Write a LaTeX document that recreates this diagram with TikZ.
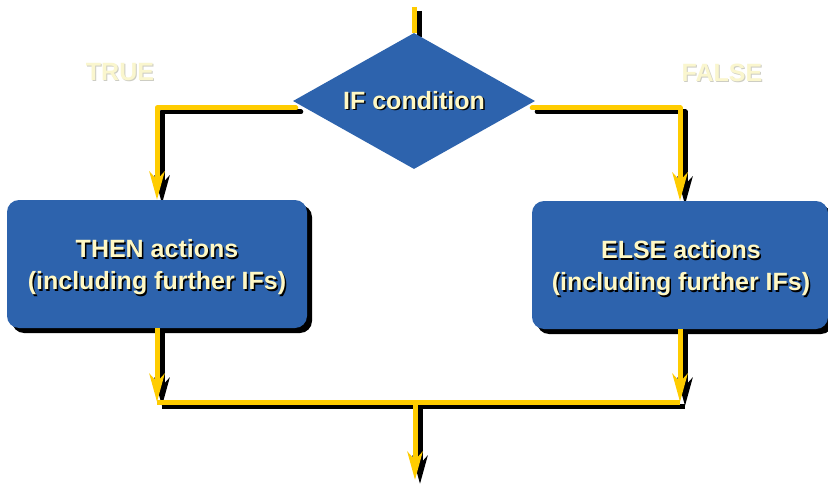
\documentclass[tikz,border=0pt]{standalone}
\usepackage{fontspec}
\setmainfont{Liberation Sans}
\usetikzlibrary{arrows.meta,shapes.geometric,shadows,calc}
\pgfdeclarelayer{bg}
\pgfdeclarelayer{paper}
\pgfsetlayers{paper,bg,main}
\definecolor{flowyellow}{RGB}{255,204,0}
\definecolor{boxblue}{RGB}{45,99,173}
\definecolor{textcream}{RGB}{255,248,196}
\definecolor{labelcream}{RGB}{250,246,206}
\definecolor{labelshade}{RGB}{205,205,195}
\newcommand\shadowed[1]{\leavevmode\rlap{\raisebox{-1.5pt}{\hspace*{1.5pt}\textcolor{black}{#1}}}#1}
\newcommand\lightshadowed[1]{\leavevmode\rlap{\raisebox{-1pt}{\hspace*{1pt}\textcolor{labelshade}{#1}}}#1}
\tikzset{
  flow/.style={draw=flowyellow, line width=5pt, line join=round},
  flowshadow/.style={draw=black, line width=5pt, line join=round, transform canvas={xshift=5pt,yshift=-4pt}},
  tipped/.style={-{Stealth[length=28pt,width=15pt,inset=8pt]}},
  decision/.style={diamond, fill=boxblue, inner sep=0pt, shape aspect=1.78,
    minimum width=242pt, minimum height=136pt, text=textcream,
    font=\fontsize{25}{32}\selectfont\bfseries},
  actionbox/.style={rectangle, rounded corners=12pt, fill=boxblue,
    minimum width=300pt, minimum height=128pt,
    drop shadow={shadow xshift=5pt, shadow yshift=-5pt, fill=black, opacity=1}},
  boxtext/.style={align=center, text=textcream, inner sep=0pt,
    font=\fontsize{25}{32}\selectfont\bfseries},
  branchlabel/.style={text=labelcream, font=\fontsize{25}{30}\selectfont\bfseries, inner sep=0pt}
}
\begin{document}
\begin{tikzpicture}[x=1pt,y=-1pt]
\useasboundingbox (0,0) rectangle (828,487);
\begin{pgfonlayer}{paper}
\fill[white] (0,0) rectangle (828,487);
\end{pgfonlayer}
\clip (0,0) rectangle (828,487);

% nodes
\node[decision] (d) at (414,101) {\shadowed{IF condition}};
\node[actionbox] (then) at (157,264) {};
\node[boxtext] (thentext) at (157,268) {\shadowed{THEN actions}\\\shadowed{(including further IFs)}};
\node[actionbox, minimum width=296pt] (else) at (680,265) {};
\node[boxtext] (elsetext) at (681,269) {\shadowed{ELSE actions}\\\shadowed{(including further IFs)}};
\node[branchlabel] (true) at (120,73) {\lightshadowed{TRUE}};
\node[branchlabel] (false) at (722,73) {\lightshadowed{FALSE}};

\coordinate (top) at (414,7);
\coordinate (jl) at (157,402);
\coordinate (jr) at (680,402);
\coordinate (jm) at (415,402);
\coordinate (out) at (415,480);

% connector shadows
\begin{pgfonlayer}{bg}
\draw[flowshadow] (top) -- (d.north);
\draw[flowshadow, tipped, line cap=round] ([shift={(3,7)}]d.west) -| (then.north);
\draw[flowshadow, tipped, line cap=round] ([shift={(-3,7)}]d.east) -| (else.north);
\draw[flowshadow, tipped] (then.south) -- (jl);
\draw[flowshadow, tipped] (else.south) -- (jr);
\draw[flowshadow] (jl) -- (jr);
\draw[flowshadow, tipped] (jm) -- (out);
\end{pgfonlayer}

% connectors
\draw[flow] (top) -- (d.north);
\draw[flow, tipped, line cap=round] ([shift={(3,7)}]d.west) -| (then.north);
\draw[flow, tipped, line cap=round] ([shift={(-3,7)}]d.east) -| (else.north);
\draw[flow, tipped] (then.south) -- (jl);
\draw[flow, tipped] (else.south) -- (jr);
\draw[flow] (jl) -- (jr);
\draw[flow, tipped] (jm) -- (out);
\end{tikzpicture}
\end{document}
